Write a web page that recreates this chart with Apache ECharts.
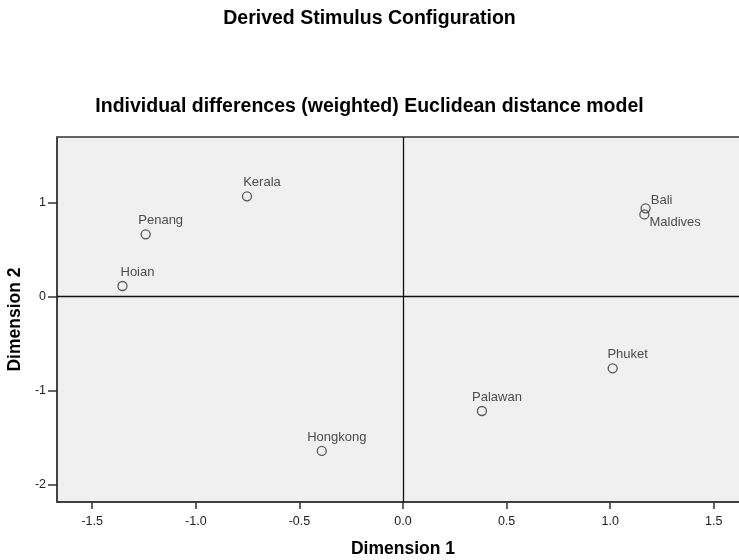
<!DOCTYPE html>
<html><head><meta charset="utf-8">
<script src="https://cdn.jsdelivr.net/npm/echarts@6/dist/echarts.min.js"></script>
<style>html,body{margin:0;padding:0;background:#fff}#c{width:739px;height:560px}</style>
</head><body><div id="c"></div>
<script>
const names = ['Kerala','Penang','Hoian','Bali','Maldives','Hongkong','Phuket','Palawan'];
const dim1 = [-0.753,-1.242,-1.354,1.171,1.165,-0.392,1.012,0.381];
const dim2 = [1.068,0.664,0.114,0.940,0.875,-1.641,-0.762,-1.216];
const xTicks = [-1.5,-1.0,-0.5,0.0,0.5,1.0,1.5];
const yTicks = [-2,-1,0,1];

const labelStyles = {
  Bali: {position:'right', align:'left', offset:[-5,-8]},
  Maldives: {position:'right', align:'left', offset:[-5,8]}
};
const FONT = '"Liberation Sans", Arial, sans-serif';
const data = names.map((n,i)=>{
  const d = {name:n, value:[dim1[i],dim2[i]]};
  if (labelStyles[n]) d.label = Object.assign({show:true}, labelStyles[n]);
  return d;
});

const chart = echarts.init(document.getElementById('c'));
chart.setOption({
  animation:false,
  backgroundColor:'#fff',
  title:[
    {text:'Derived Stimulus Configuration', left:'center', top:4,
     textStyle:{fontFamily:FONT, fontSize:19.5, fontWeight:'bold', color:'#000'}},
    {text:'Individual differences (weighted) Euclidean distance model', left:'center', top:92,
     textStyle:{fontFamily:FONT, fontSize:19.5, fontWeight:'bold', color:'#000'}}
  ],
  grid:{left:57, top:137, right:-10, bottom:58, outerBoundsMode:'none', containLabel:false,
    show:true, backgroundColor:'#f0f0f0', borderColor:'#333', borderWidth:1.3},
  xAxis:{type:'value', min:-1.67, max:1.67,
    name:'Dimension 1', nameLocation:'middle', nameGap:38,
    nameTextStyle:{fontFamily:FONT, fontSize:17.5, fontWeight:'bold', color:'#000'},
    axisLine:{show:true, onZero:false, lineStyle:{color:'#333', width:1.5}},
    axisTick:{show:true, inside:false, length:7, customValues:xTicks, lineStyle:{color:'#333', width:1.5}},
    axisLabel:{customValues:xTicks, formatter:v=>v.toFixed(1), fontFamily:FONT, fontSize:12.5, color:'#222', margin:13},
    splitLine:{show:false}},
  yAxis:{type:'value', min:-2.184, max:1.699,
    name:'Dimension 2', nameLocation:'middle', nameGap:28,
    nameTextStyle:{fontFamily:FONT, fontSize:17.5, fontWeight:'bold', color:'#000'},
    axisLine:{show:true, onZero:false, lineStyle:{color:'#333', width:1.5}},
    axisTick:{show:true, inside:false, length:9, customValues:yTicks, lineStyle:{color:'#333', width:1.5}},
    axisLabel:{customValues:yTicks, formatter:v=>String(v), fontFamily:FONT, fontSize:12.5, color:'#222', margin:11},
    splitLine:{show:false}},
  series:[{
    type:'scatter', data:data, symbol:'circle', symbolSize:9,
    itemStyle:{color:'rgba(0,0,0,0)', borderColor:'#333', borderWidth:1.3},
    label:{show:true, position:'top', align:'center', offset:[15,3], formatter:'{b}',
      fontFamily:FONT, fontSize:13, color:'#222'},
    markLine:{silent:true, symbol:'none', label:{show:false},
      lineStyle:{color:'#111', width:1.3, type:'solid'},
      data:[{xAxis:0},{yAxis:0}]}
  }]
});
</script></body></html>
